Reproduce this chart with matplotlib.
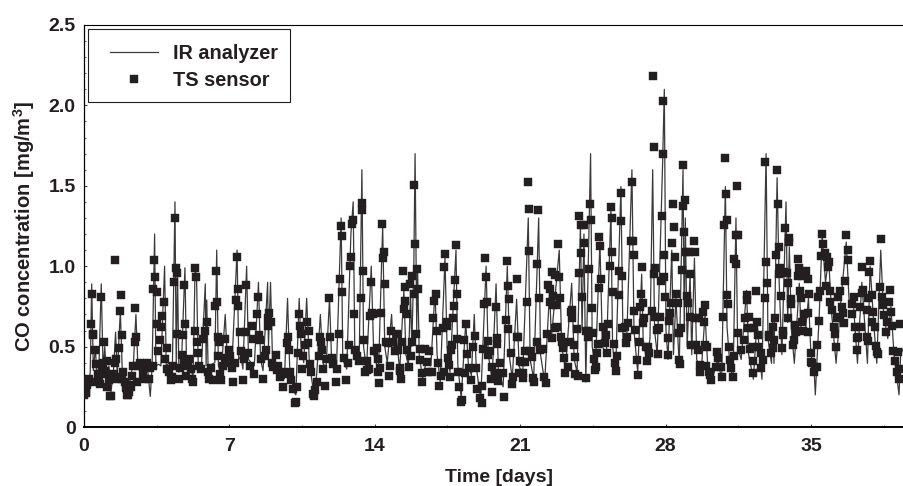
import numpy as np
import matplotlib
matplotlib.use("Agg")
import matplotlib.pyplot as plt
from matplotlib.patches import Rectangle

plt.rcParams['font.family'] = ['Liberation Sans', 'DejaVu Sans']
plt.rcParams['font.weight'] = 'bold'
plt.rcParams['mathtext.fontset'] = 'custom'
plt.rcParams['mathtext.bf'] = 'Liberation Sans:bold'
plt.rcParams['mathtext.rm'] = 'Liberation Sans:bold'
plt.rcParams['mathtext.default'] = 'bf'

# (time in days, CO mg/m3)
ts_week1 = [
    (0.02,.20),(0.03,.24),(0.06,.29),(0.08,.21),(0.12,.22),(0.15,.26),(0.2,.28),(0.25,.3),(0.32,.64),(0.37,.83),
    (0.42,.58),(0.45,.57),(0.51,.48),(0.55,.28),(0.6,.39),(0.65,.33),(0.7,.3),(0.75,.27),(0.82,.81),(0.85,.36),
    (0.9,.4),(0.95,.53),(1.0,.35),(1.05,.33),(1.1,.41),(1.12,.25),(1.2,.29),(1.25,.19),(1.3,.19),(1.35,.31),
    (1.45,.33),(1.48,1.04),(1.5,.4),(1.55,.42),(1.6,.3),(1.65,.31),(1.69,.49),(1.73,.72),(1.78,.82),(1.81,.57),
    (1.85,.3),(1.9,.34),(1.95,.28),(2.0,.24),(2.05,.2),(2.1,.2),(2.15,.22),(2.2,.26),(2.25,.25),(2.3,.32),
    (2.35,.38),(2.44,.53),(2.47,.74),(2.52,.56),(2.55,.28),(2.6,.38),(2.7,.4),(2.8,.38),(2.85,.33),(2.9,.3),
    (3.0,.38),(3.05,.4),(3.1,.38),(3.15,.3),(3.2,.37),(3.3,.38),(3.34,.86),(3.35,1.04),(3.43,.93),(3.5,.84),
    (3.53,.64),(3.56,.47),(3.66,.54),(3.72,.62),(3.77,.69),(3.84,.78),(3.9,.42),(3.98,.49),(4.0,.36),(4.1,.34),
    (4.2,.29),(4.25,.31),(4.3,.38),(4.32,.90),(4.37,1.30),(4.41,.99),(4.46,.96),(4.49,.58),(4.55,.3),(4.6,.37),
    (4.7,.45),(4.77,.57),(4.8,.4),(4.83,.88),(4.86,.64),(4.9,.32),(5.0,.38),(5.05,.42),(5.15,.36),(5.2,.3),
    (5.25,.28),(5.33,.60),(5.35,.99),(5.41,.93),(5.46,.53),(5.5,.46),(5.55,.38),(5.65,.36),(5.75,.55),(5.81,.60),
    (5.91,.65),(5.95,.34),(6.0,.3),(6.1,.37),(6.2,.29),(6.31,.75),(6.37,.97),(6.4,.78),(6.45,.44),(6.47,.56),
    (6.52,.53),(6.55,.33),(6.6,.29),(6.7,.38),(6.77,.55),(6.8,.43),(6.95,.4),(7.0,.48),
]
ts_week2 = [
    (7.05,.44),(7.12,.37),(7.19,.28),(7.25,.4),(7.32,.79),(7.37,1.06),(7.40,.75),(7.43,.86),(7.51,.59),(7.55,.47),
    (7.64,.29),(7.7,.42),(7.80,.59),(7.82,.88),(7.9,.46),(8.0,.38),(8.11,.63),(8.15,.55),(8.2,.33),(8.31,.70),
    (8.39,.81),(8.43,.57),(8.47,.54),(8.52,.42),(8.6,.30),(8.7,.44),(8.76,.48),(8.84,.68),(8.86,.63),(8.92,.71),
    (8.99,.65),(9.05,.4),(9.12,.375),(9.26,.45),(9.28,.355),(9.35,.38),(9.44,.31),(9.52,.34),(9.6,.25),(9.7,.33),
    (9.76,.52),(9.81,.56),(9.85,.48),(9.92,.345),(9.95,.29),(10.08,.235),(10.16,.148),(10.19,.156),(10.24,.25),(10.32,.46),
    (10.35,.70),(10.40,.63),(10.45,.58),(10.5,.36),(10.56,.44),(10.64,.51),(10.72,.65),(10.77,.52),(10.82,.60),(10.88,.39),
    (10.93,.34),(11.04,.205),(11.08,.19),(11.12,.23),(11.2,.28),(11.32,.44),(11.36,.56),(11.41,.53),(11.44,.48),(11.5,.36),
    (11.6,.255),(11.7,.42),(11.81,.80),(11.86,.56),(11.92,.43),(12.0,.39),(12.13,.28),(12.2,.36),(12.28,.58),(12.33,.92),
    (12.36,1.25),(12.41,1.19),(12.44,.84),(12.5,.43),(12.6,.29),(12.7,.4),(12.78,.51),(12.82,1.0),(12.86,1.06),(12.89,1.26),
    (12.94,1.29),(12.98,.70),(13.05,.48),(13.15,.44),(13.25,.41),(13.32,.80),(13.37,1.39),(13.40,1.35),(13.45,.97),(13.48,.54),
    (13.53,.34),(13.61,.355),(13.64,.41),(13.7,.36),(13.77,.69),(13.82,.90),(13.85,.71),(13.90,.70),(13.95,.47),
]
ts_week3 = [
    (14.09,.49),(14.14,.42),(14.17,.345),(14.2,.275),(14.25,.365),(14.31,.71),(14.36,1.26),(14.40,1.05),(14.44,1.09),(14.49,.89),
    (14.53,.53),(14.65,.52),(14.68,.32),(14.73,.38),(14.76,.60),(14.89,.53),(14.97,.47),(15.05,.58),(15.13,.48),(15.21,.37),
    (15.23,.35),(15.26,.30),(15.33,.53),(15.36,.97),(15.41,.735),(15.45,.87),(15.47,.785),(15.53,.70),(15.57,.48),(15.66,.375),
    (15.70,.89),(15.72,.44),(15.78,.53),(15.81,.94),(15.87,.83),(15.90,1.505),(15.94,1.14),(16.0,.58),(16.05,.98),(16.10,.86),
    (16.18,.485),(16.19,.415),(16.26,.335),(16.29,.28),(16.42,.485),(16.5,.405),(16.58,.345),(16.63,.475),(16.77,.345),(16.82,.676),
    (16.87,.785),(16.93,.827),(17.0,.60),(17.03,.40),(17.09,.257),(17.19,.317),(17.3,.618),(17.32,.345),(17.35,.997),(17.40,1.074),
    (17.46,.655),(17.49,.625),(17.51,.427),(17.57,.385),(17.62,.313),(17.67,.48),(17.73,.51),(17.78,.68),(17.81,.75),(17.86,.914),
    (17.89,1.13),(17.94,.827),(17.97,.55),(18.02,.345),(18.07,.251),(18.15,.158),(18.18,.168),(18.30,.541),(18.34,.334),(18.38,.639),
    (18.42,.454),(18.55,.365),(18.62,.293),(18.75,.496),(18.83,.566),(18.85,.365),(18.9,.234),(19.07,.178),(19.15,.147),(19.18,.255),
    (19.23,.483),(19.26,.763),(19.31,1.049),(19.36,.935),(19.39,.78),(19.44,.448),(19.47,.535),(19.55,.475),(19.58,.297),(19.63,.216),
    (19.66,.375),(19.79,.334),(19.82,.749),(19.87,.552),(19.90,.516),(19.95,.288),(20.03,.40),(20.19,.334),(20.2,.189),(20.32,.666),
    (20.35,1.035),(20.4,.61),(20.43,.879),(20.48,.796),(20.54,.458),(20.59,.268),(20.67,.309),(20.83,.92),(20.85,.562),(20.91,.562),
    (20.94,.338),
]
ts_week4 = [
    (21.01,.41),(21.07,.406),(21.12,.303),(21.15,.334),(21.23,.475),(21.25,.406),(21.31,.775),(21.36,1.526),(21.41,1.356),(21.44,1.097),
    (21.47,.475),(21.55,.438),(21.63,.303),(21.66,.282),(21.79,.531),(21.82,1.012),(21.86,1.348),(21.90,.804),(21.95,.479),(22.11,.483),
    (22.13,.309),(22.23,.272),(22.31,.579),(22.35,.883),(22.43,.856),(22.45,.78),(22.51,.552),(22.55,.962),(22.57,.815),(22.6,.759),
    (22.68,.945),(22.7,.614),(22.72,.759),(22.76,.624),(22.80,1.14),(22.87,.931),(22.92,.80),(22.96,.558),(23.0,.531),(23.08,.49),
    (23.12,.427),(23.16,.338),(23.29,.375),(23.4,.531),(23.45,.713),(23.48,.728),(23.5,.676),(23.59,.51),(23.64,.438),(23.66,.328),
    (23.75,.61),(23.77,.317),(23.81,.956),(23.85,1.312),(23.93,1.258),(23.95,1.084),(23.98,.807),(24.07,1.258),(24.09,1.142),(24.15,.597),
    (24.17,.305),(24.25,.558),(24.28,.597),(24.31,.981),(24.36,1.389),(24.39,1.285),(24.44,.742),(24.52,.583),(24.55,.421),(24.6,.355),
    (24.65,.375),(24.68,.458),(24.76,.516),(24.78,.865),(24.81,1.182),(24.86,1.128),(24.91,.918),(24.97,.62),(25.08,.525),(25.13,.572),
    (25.16,.458),(25.24,.639),(25.32,1.0),(25.36,1.368),(25.40,1.302),(25.44,1.09),(25.48,.842),(25.53,.514),(25.56,.396),(25.61,.35),
    (25.68,.442),(25.74,.819),(25.77,.972),(25.84,1.457),(25.87,1.281),(25.88,.614),(25.9,.939),(26.05,.624),(26.09,.52),(26.13,.562),
    (26.21,.645),(26.34,1.159),(26.37,1.522),(26.45,1.157),(26.47,1.07),(26.48,.724),(26.53,.603),(26.64,.417),(26.66,.323),(26.72,.531),
    (26.77,.744),(26.82,.827),(26.85,.995),(26.9,.645),(26.93,.769),(26.98,.676),(27.06,.50),(27.12,.41),(27.17,.50),(27.19,.458),
    (27.33,.724),(27.41,2.18),(27.44,1.74),(27.44,.95),(27.49,.987),(27.51,.682),(27.57,.603),(27.65,.454),(27.7,.614),(27.73,.686),
    (27.78,.91),(27.83,1.314),(27.86,1.70),(27.90,2.03),(27.92,1.07),(27.94,.93),(27.95,.81),
]
ts_week5 = [
    (28.1,.552),(28.12,.448),(28.18,.661),(28.21,.707),(28.26,.773),(28.31,1.142),(28.34,1.387),(28.41,1.244),(28.45,1.057),(28.5,.825),
    (28.58,.769),(28.63,.583),(28.66,.417),(28.68,.392),(28.74,.614),(28.77,.974),(28.82,1.632),(28.85,1.375),(28.9,1.213),(28.93,1.41),
    (28.98,1.086),(29.02,.817),(29.06,.769),(29.14,1.086),(29.16,.952),(29.18,.682),(29.22,.51),(29.38,1.155),(29.40,1.086),(29.42,.676),
    (29.46,.51),(29.54,.479),(29.63,.676),(29.65,.344),(29.66,.386),(29.82,.713),(29.87,.651),(29.9,.759),(29.91,.51),(29.95,.38),
    (29.98,.50),(30.11,.344),(30.13,.323),(30.19,.292),(30.43,.375),(30.46,.469),(30.51,.427),(30.67,.375),(30.72,.313),(30.78,.684),
    (30.83,1.256),(30.86,1.671),(30.91,1.447),(30.94,1.287),(30.97,.821),(31.02,.767),(31.07,.50),(31.09,.417),(31.15,.365),(31.23,.313),
    (31.28,.442),(31.31,1.045),(31.39,1.194),(31.41,1.014),(31.44,1.497),(31.47,.583),(31.5,1.194),(31.63,.479),(31.79,.541),(31.81,.676),
    (31.92,.821),(31.94,.79),(31.95,.614),(32.03,.682),(32.05,.483),(32.19,.50),(32.21,.334),(32.23,.413),(32.27,.614),(32.35,.846),
    (32.4,.655),(32.43,.50),(32.47,.572),(32.59,.458),(32.61,.365),(32.71,.417),(32.77,.805),(32.8,1.648),(32.85,1.028),(32.9,.894),
    (32.96,.562),(33.0,.572),(33.08,.458),(33.16,.624),(33.18,.49),(33.24,.541),(33.27,.676),(33.32,1.07),(33.37,1.598),(33.4,1.385),
    (33.45,1.117),(33.48,.95),(33.53,.987),(33.56,.815),(33.6,.49),(33.64,.572),(33.67,.6),(33.72,.966),(33.77,1.238),(33.83,.956),
    (33.88,.676),(33.91,.894),(33.93,1.153),(33.96,1.173),(34.04,.796),(34.06,.765),(34.12,.51),(34.2,.541),(34.22,.634),(34.28,.593),
    (34.36,1.045),(34.38,.939),(34.41,.987),(34.47,.846),(34.52,.80),(34.57,.939),(34.59,.651),(34.6,.6),(34.68,.703),(34.76,.972),
    (34.84,.92),(34.86,.711),(34.88,.593),(34.89,.827),
]
ts_week6 = [
    (35.0,.458),(35.02,.407),(35.07,.396),(35.15,.344),(35.2,.375),(35.28,.375),(35.31,.51),(35.36,.806),(35.41,.659),(35.44,.847),
    (35.49,1.063),(35.52,1.2),(35.6,1.138),(35.68,1.084),(35.73,.879),(35.76,1.055),(35.81,.997),(35.87,1.028),(35.92,.847),(35.94,.779),
    (36.0,.727),(36.11,.624),(36.16,.576),(36.21,.495),(36.24,.676),(36.32,.81),(36.4,.847),(36.42,.686),(36.48,.748),(36.56,.706),
    (36.61,.644),(36.64,.908),(36.69,1.196),(36.77,1.1),(36.8,1.038),(36.96,.763),(36.98,.70),(37.09,.806),(37.12,.624),(37.2,.478),
    (37.22,.551),(37.28,.561),(37.37,.748),(37.39,.624),(37.45,.995),(37.47,.835),(37.53,.852),(37.69,.727),(37.71,.561),(37.73,.537),
    (37.77,.80),(37.81,.963),(37.85,1.034),(37.93,.82),(37.95,.655),(38.01,.713),(38.09,.624),(38.12,.503),(38.2,.468),(38.25,.452),
    (38.33,.868),(38.36,1.169),(38.41,.806),(38.49,.758),(38.51,.696),(38.62,.592),(38.65,.655),(38.78,.779),(38.81,.85),(38.86,.713),
    (38.89,.628),(38.97,.472),(39.05,.41),(39.13,.344),(39.21,.464),(39.23,.358),(39.24,.298),(39.29,.638),
]

ir_week1 = [
    (0,.18),(.1,.3),(.2,.26),(.3,.34),(.37,.89),(.45,.35),(.55,.5),(.62,.3),(.72,.38),(.83,.89),(.92,.36),(1.0,.5),(1.08,.33),
    (1.2,.38),(1.3,.22),(1.42,.35),(1.52,.59),(1.6,.33),(1.75,.72),(1.85,.32),(2.0,.22),(2.15,.24),(2.3,.35),(2.38,.4),(2.5,.70),
    (2.6,.36),(2.75,.39),(2.9,.38),(3.05,.38),(3.19,.19),(3.28,.38),(3.40,1.20),(3.46,.38),(3.6,.39),(3.7,.38),(3.88,1.0),(3.96,.38),
    (4.1,.4),(4.25,.33),(4.38,1.40),(4.44,.38),(4.5,.97),(4.57,.34),(4.7,.42),(4.86,.99),(4.94,.36),(5.1,.4),(5.25,.3),(5.35,1.0),
    (5.42,.92),(5.5,.38),(5.65,.37),(5.84,.89),(5.88,.38),(5.91,.79),(5.98,.33),(6.15,.39),(6.3,.4),(6.39,1.10),(6.47,.38),(6.6,.33),
    (6.8,.70),(6.9,.42),(7.0,.44),
]
ir_week2 = [
    (7.12,.38),(7.37,1.10),(7.45,.42),(7.55,.44),(7.65,.36),(7.83,1.0),(7.92,.42),(8.05,.4),(8.2,.38),(8.40,.90),(8.5,.42),(8.62,.35),
    (8.84,.90),(8.88,.5),(8.98,.90),(9.08,.4),(9.25,.39),(9.5,.33),(9.65,.3),(9.8,.80),(9.9,.38),(10.1,.22),(10.2,.2),(10.36,.80),
    (10.45,.5),(10.58,.4),(10.72,.80),(10.85,.4),(11.05,.22),(11.2,.32),(11.38,.70),(11.5,.4),(11.65,.36),(11.82,.80),(11.92,.42),(12.15,.34),
    (12.38,1.3),(12.46,.42),(12.65,.36),(12.85,1.20),(12.96,1.40),(13.04,.45),(13.25,.42),(13.38,1.60),(13.46,.5),(13.6,.36),(13.83,1.0),(13.95,.45),
]
ir_week3 = [
    (14.18,.35),(14.38,1.25),(14.48,.5),(14.6,.4),(14.81,.70),(14.9,.45),(15.05,.55),(15.2,.35),(15.4,.85),(15.5,.45),(15.62,.38),(15.72,.85),
    (15.78,.5),(15.88,1.0),(15.94,1.70),(16.02,.6),(16.06,1.0),(16.14,.45),(16.3,.3),(16.5,.42),(16.7,.38),(16.9,.85),(17.0,.45),(17.15,.28),
    (17.38,1.05),(17.48,.5),(17.62,.34),(17.91,1.10),(18.0,.38),(18.16,.18),(18.38,.65),(18.5,.4),(18.65,.32),(18.79,.70),(18.88,.38),(19.1,.17),
    (19.36,1.0),(19.46,.45),(19.65,.3),(19.84,.89),(19.95,.35),(20.18,.25),(20.38,1.0),(20.5,.42),(20.62,.3),(20.83,.795),(20.95,.38),
]
ir_week4 = [
    (21.12,.32),(21.39,1.30),(21.48,.42),(21.65,.3),(21.89,1.30),(21.98,.45),(22.18,.28),(22.42,.85),(22.5,.55),(22.88,1.10),(23.0,.5),(23.18,.36),
    (23.48,.894),(23.6,.42),(23.74,.34),(23.9,1.25),(23.98,.6),(24.07,1.2),(24.16,.28),(24.39,1.70),(24.47,.5),(24.62,.36),(24.84,1.15),(24.96,.5),
    (25.15,.45),(25.37,1.35),(25.45,.5),(25.6,.36),(25.85,1.495),(25.95,.55),(26.12,.5),(26.38,1.60),(26.48,.6),(26.66,.34),(26.85,.95),(26.92,.55),
    (27.1,.4),(27.25,.55),(27.38,1.60),(27.47,.6),(27.6,.45),(27.86,1.65),(27.94,2.10),(28.02,.6),
]
ir_week5 = [
    (28.12,.42),(28.3,1.1),(28.38,.45),(28.5,.8),(28.66,.38),(28.84,1.60),(28.9,.6),(28.95,1.30),(29.04,.5),(29.18,.95),(29.26,.45),(29.39,1.05),
    (29.5,.42),(29.72,.35),(29.9,.7),(30.05,.33),(30.22,.28),(30.5,.42),(30.7,.3),(30.88,1.495),(30.96,.62),(31.1,.38),(31.25,.3),(31.39,1.30),
    (31.47,.5),(31.64,.42),(31.9,.85),(32.0,.45),(32.23,.297),(32.4,.65),(32.64,.297),(32.84,1.70),(32.93,.55),(33.1,.396),(33.16,.7),(33.22,.396),
    (33.37,1.55),(33.47,.9),(33.6,.45),(33.8,1.40),(33.88,.65),(33.96,1.12),(34.06,.6),(34.2,.396),(34.44,.894),(34.52,.6),(34.72,.58),(34.88,.8),
]
ir_week6 = [
    (35.0,.45),(35.15,.36),(35.21,.20),(35.27,.36),(35.4,.7),(35.54,1.2),(35.7,.9),(35.85,1.05),(36.0,.7),(36.21,.396),(36.45,.8),(36.7,1.15),
    (36.85,.75),(37.05,.75),(37.24,.396),(37.45,.9),(37.72,.396),(37.85,1.0),(38.02,.65),(38.17,.396),(38.36,1.10),(38.5,.7),(38.7,.55),(38.85,.75),
    (39.0,.45),(39.24,.20),(39.32,.45),(39.48,.5),
]

x_ticks = [0, 7, 14, 21, 28, 35]
y_ticks = [0, 0.5, 1.0, 1.5, 2.0, 2.5]
y_tick_labels = ["0", "0.5", "1.0", "1.5", "2.0", "2.5"]

ts = np.array(ts_week1 + ts_week2 + ts_week3 + ts_week4 + ts_week5 + ts_week6)
ir = np.array(ir_week1 + ir_week2 + ir_week3 + ir_week4 + ir_week5 + ir_week6)

fig = plt.figure(figsize=(9.04, 4.86), dpi=100)
ax = fig.add_axes([84/904, (486-427)/486, (904-84)/904, (427-25)/486])

ax.plot(ir[:, 0], ir[:, 1], color="#3a3a3a", lw=0.9, label="IR analyzer", zorder=2)
ax.plot(ts[:, 0], ts[:, 1], ls="none", marker="s", ms=5.6, mfc="#231f20", mec="#231f20", mew=0.3,
        label="TS sensor", zorder=3)

ax.set_xlim(0, 820/20.77)
ax.set_ylim(0, 2.5)
ax.set_xticks(x_ticks)
ax.set_xticks(np.arange(3.5, 39, 7), minor=True)
ax.set_yticks(y_ticks)
ax.set_yticklabels(y_tick_labels)
ax.set_yticks(np.arange(0, 2.5, 0.1), minor=True)
ax.tick_params(which="major", direction="in", length=2.5, width=0.6, labelsize=14, pad=6, colors="#231f20")
ax.tick_params(which="minor", direction="in", length=1.5, width=0.5, colors="#231f20")
ax.tick_params(axis="x", pad=8)
ax.spines["right"].set_visible(False)
ax.spines["top"].set_linewidth(0.8)
ax.spines["left"].set_linewidth(0.9)
ax.spines["bottom"].set_linewidth(1.4)

ax.set_xlabel("Time [days]", fontsize=14, fontweight="bold", color="#231f20", va="center")
ax.xaxis.set_label_coords((499-84)/820, -50/402)
ax.set_ylabel(r"CO concentration [mg/m$^{3}$]", fontsize=14.5, fontweight="bold", color="#231f20", va="center")
ax.yaxis.set_label_coords(-60/820, (427-226)/402)

# legend box is drawn by hand so it keeps the original proportions
ax.add_patch(Rectangle((4/820, (427-102)/402), 202/820, 73/402, transform=ax.transAxes,
                       fc="white", ec="#231f20", lw=0.8, zorder=4))
leg = ax.legend(loc="upper left", bbox_to_anchor=(4/820, (427-22)/402), frameon=False, fontsize=14.3,
                borderpad=1.1, borderaxespad=0, handlelength=2.41, handletextpad=0.75, labelspacing=0.4,
                labelcolor="#231f20", numpoints=1)
leg.set_zorder(5)

fig.savefig("out.png", dpi=100)
